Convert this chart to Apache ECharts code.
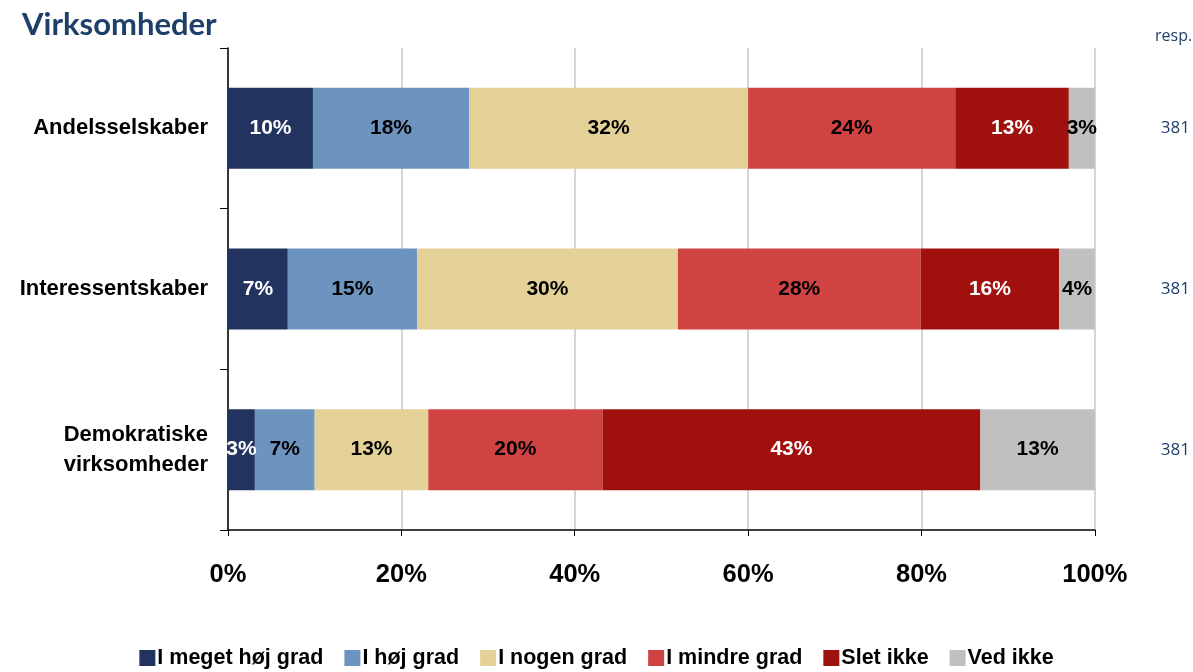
<!DOCTYPE html>
<html><head><meta charset="utf-8">
<script src="https://cdn.jsdelivr.net/npm/echarts@6/dist/echarts.min.js"></script>
<style>html,body{margin:0;padding:0;background:#fff}#c{width:1193px;height:672px}</style>
</head><body><div id="c"></div>
<script>
const categories = ['Andelsselskaber', 'Interessentskaber', 'Demokratiske\nvirksomheder'];
const respCounts = ['381', '381', '381'];
const seriesNames = ['I meget høj grad', 'I høj grad', 'I nogen grad', 'I mindre grad', 'Slet ikke', 'Ved ikke'];
// values per series, in category order
const meget = [9.8, 6.9, 3.1];
const hoej = [18.0, 14.9, 6.9];
const nogen = [32.2, 30.1, 13.1];
const mindre = [23.9, 28.0, 20.1];
const slet = [13.1, 16.0, 43.6];
const vedIkke = [3.0, 4.1, 13.2];
// displayed labels
const megetLbl = ['10%', '7%', '3%'];
const hoejLbl = ['18%', '15%', '7%'];
const nogenLbl = ['32%', '30%', '13%'];
const mindreLbl = ['24%', '28%', '20%'];
const sletLbl = ['13%', '16%', '43%'];
const vedIkkeLbl = ['3%', '4%', '13%'];
const xTicks = ['0%', '20%', '40%', '60%', '80%', '100%'];

const colors = ['#21335E', '#6C94BF', '#E3D198', '#D04343', '#A0100C', '#C0C0C0'];
const labelColors = ['#fff', '#000', '#000', '#000', '#fff', '#000'];
const vals = [meget, hoej, nogen, mindre, slet, vedIkke];
const lbls = [megetLbl, hoejLbl, nogenLbl, mindreLbl, sletLbl, vedIkkeLbl];

const chart = echarts.init(document.getElementById('c'));
chart.setOption({
  animation: false,
  title: [{
    text: 'Virksomheder', left: 17, top: 4,
    textStyle: {fontFamily: 'Lato', fontWeight: 'bold', fontSize: 31, color: '#1F3F6B'}
  }, {
    text: 'resp.', left: 1150, top: 23,
    textStyle: {fontFamily: 'Open Sans', fontWeight: 'normal', fontSize: 16, color: '#1F3F6B'}
  }],
  legend: {
    bottom: -2, left: 'center', itemWidth: 16, itemHeight: 16, itemGap: 21,
    icon: 'rect',
    textStyle: {fontFamily: 'Liberation Sans', fontWeight: 'bold', fontSize: 21.5, color: '#000', padding: [0,0,0,-3]},
    data: seriesNames
  },
  grid: {left: 228, right: 98, top: 48, bottom: 142, containLabel: false},
  xAxis: {
    type: 'value', min: 0, max: 100, interval: 20,
    axisLine: {show: true, lineStyle: {color: '#000', width: 1.5}},
    axisTick: {show: true, length: 6, lineStyle: {color: '#000'}},
    splitLine: {show: true, lineStyle: {color: '#C8C8C8', width: 1.5}},
    axisLabel: {
      margin: 32, fontFamily: 'Liberation Sans', fontWeight: 'bold', fontSize: 25.5, color: '#000',
      formatter: (v) => xTicks[Math.round(v / 20)]
    }
  },
  yAxis: [{
    type: 'category', data: categories, inverse: true,
    axisLine: {show: true, lineStyle: {color: '#000', width: 1.5}},
    axisTick: {show: true, length: 8, inside: false, lineStyle: {color: '#000'}},
    axisLabel: {margin: 20, fontFamily: 'Liberation Sans', fontWeight: 'bold', fontSize: 22, color: '#000', lineHeight: 30}
  }, {
    type: 'category', data: respCounts, inverse: true, position: 'right',
    axisLine: {show: false}, axisTick: {show: false},
    axisLabel: {margin: 66, fontFamily: 'Open Sans', fontSize: 17, color: '#1F3F6B', align: 'left'}
  }],
  series: seriesNames.map((n, i) => ({
    name: n, type: 'bar', stack: 'total', barWidth: 81,
    itemStyle: {color: colors[i]},
    data: vals[i],
    label: {
      show: true, position: 'inside',
      fontFamily: 'Liberation Sans', fontWeight: 'bold', fontSize: 21, color: labelColors[i],
      formatter: (p) => lbls[i][p.dataIndex]
    }
  }))
});
</script></body></html>
